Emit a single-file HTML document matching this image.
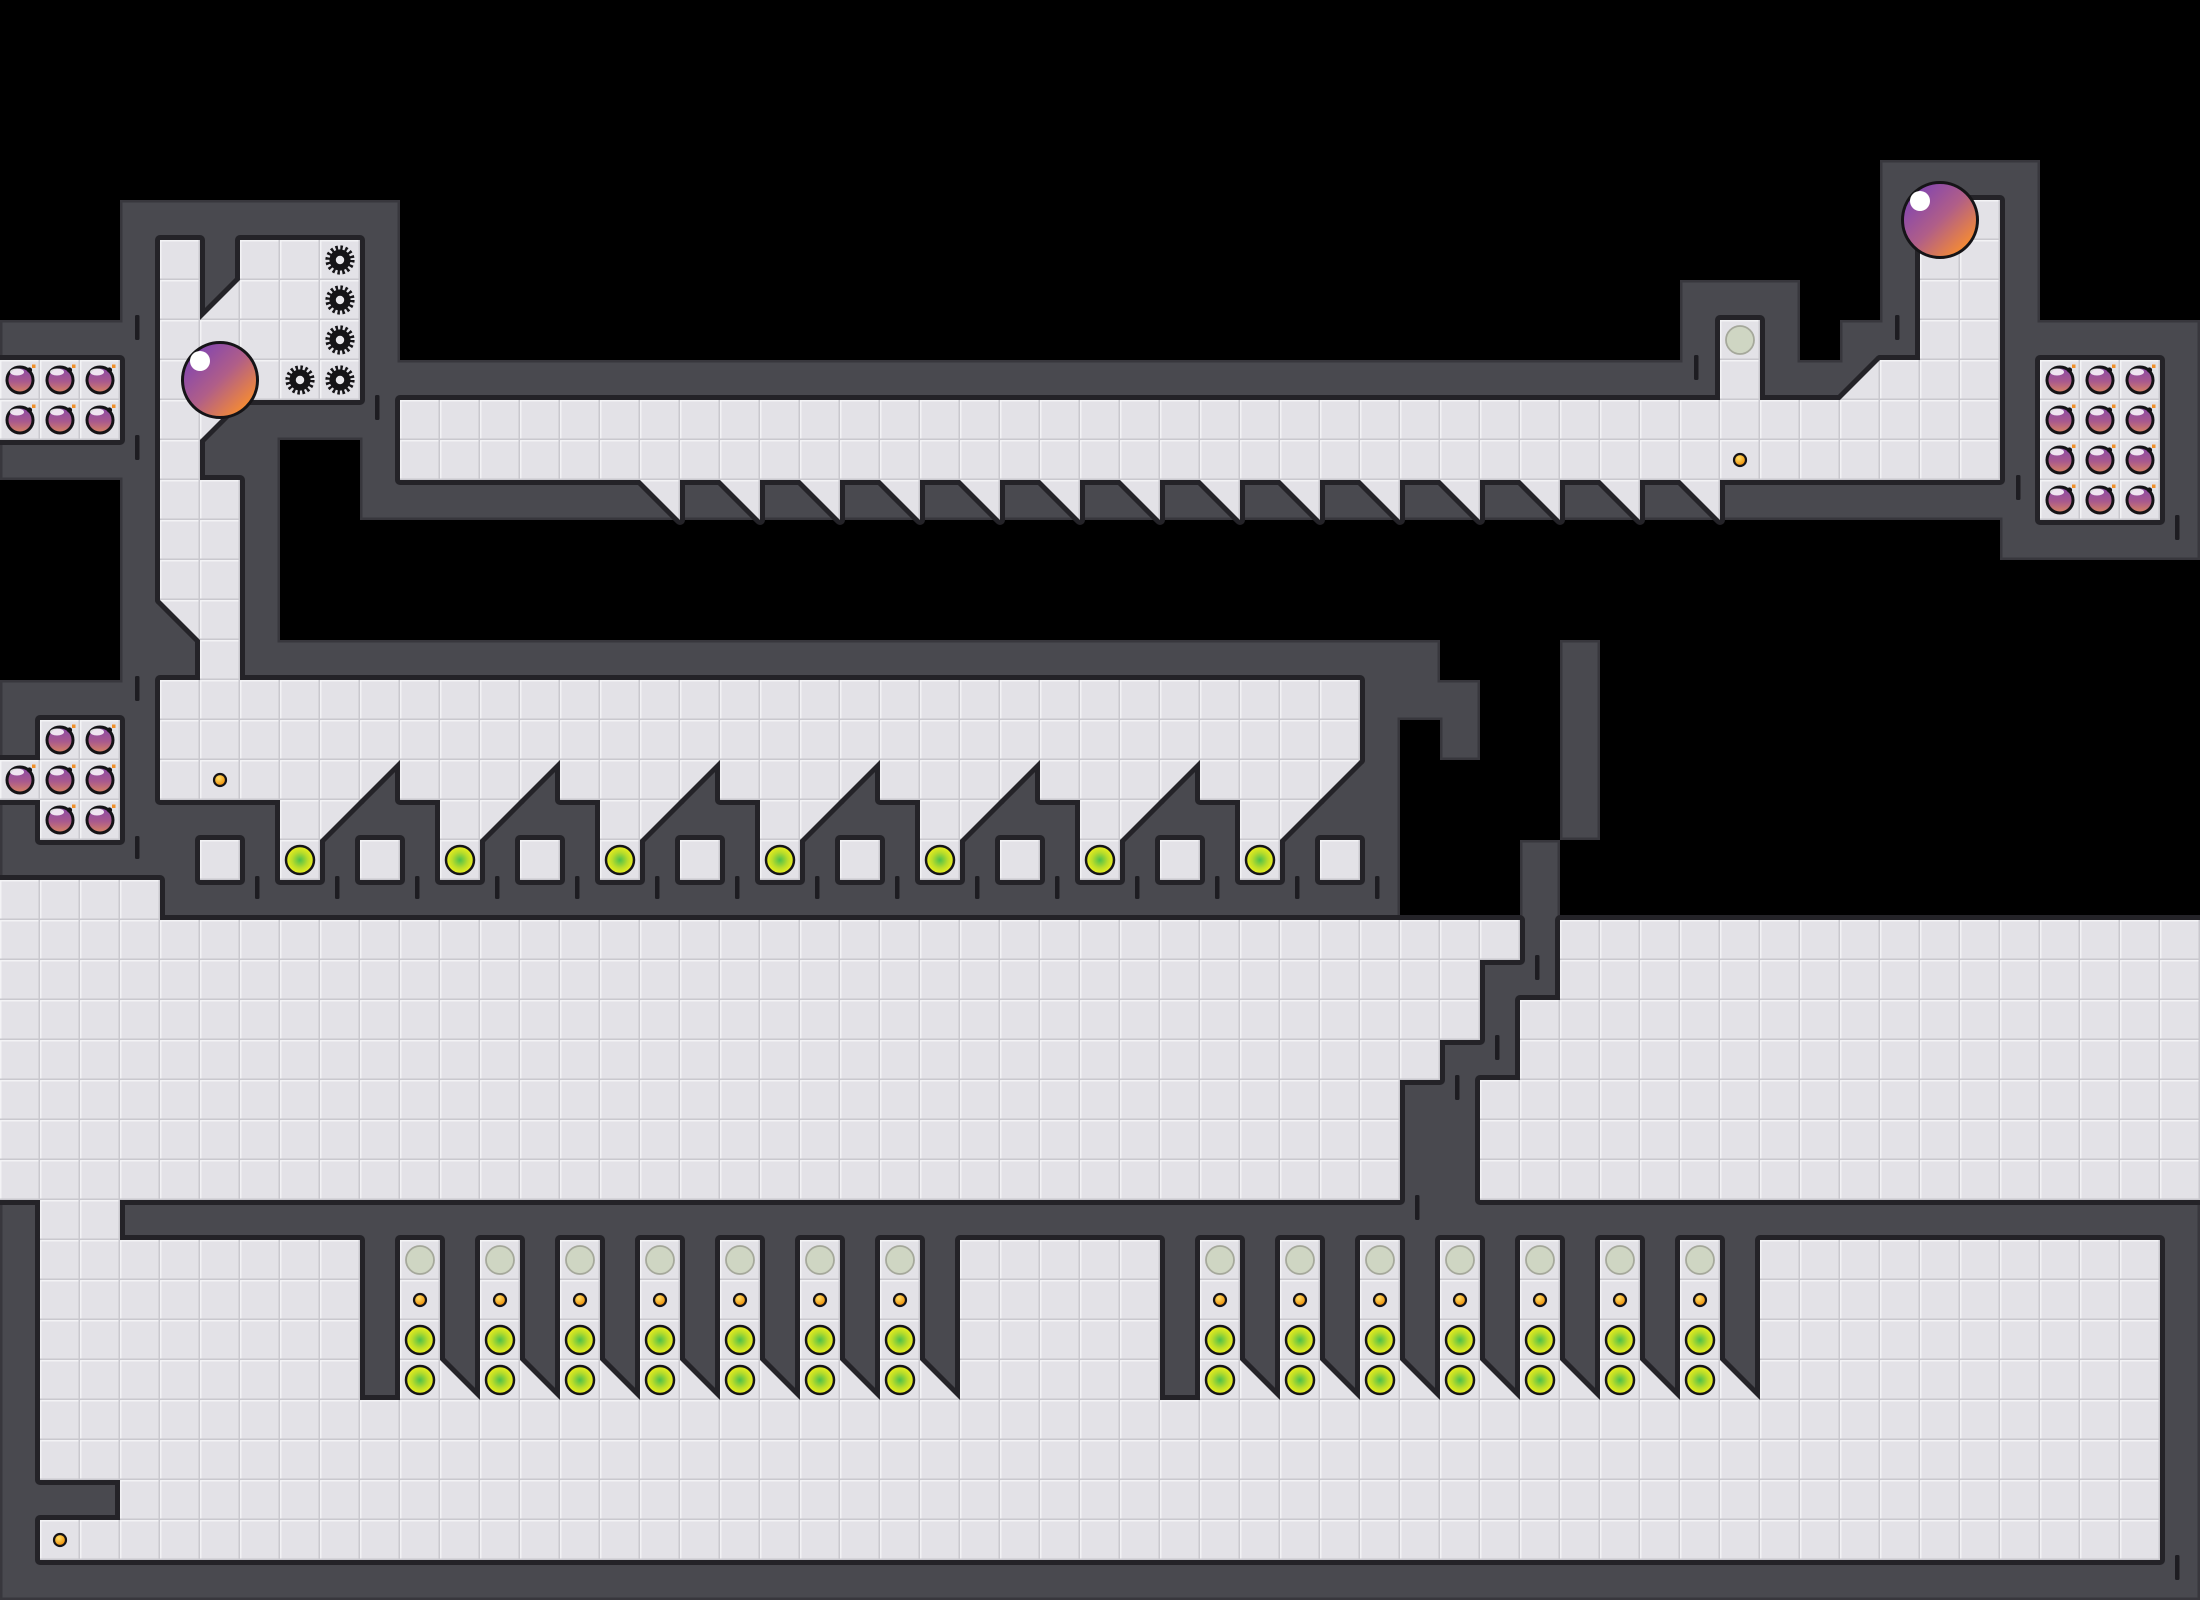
<!DOCTYPE html>
<html><head><meta charset="utf-8"><style>html,body{margin:0;padding:0;background:#000;}svg{display:block}</style></head>
<body>
<svg xmlns="http://www.w3.org/2000/svg" xmlns:xlink="http://www.w3.org/1999/xlink" width="2200" height="1600" viewBox="0 0 2200 1600">
<defs>
<filter id="er" x="0" y="0" width="2200" height="1600" filterUnits="userSpaceOnUse"><feMorphology operator="erode" radius="2.5"/></filter>
<pattern id="tile" width="40" height="40" patternUnits="userSpaceOnUse">
<rect width="40" height="40" fill="#e3e2e7"/>
<rect x="0" y="0" width="40" height="1.5" fill="#f3f3f5"/>
<rect x="0" y="0" width="1.5" height="40" fill="#f3f3f5"/>
<rect x="0" y="38.5" width="40" height="1.5" fill="#c9c8ce"/>
<rect x="38.5" y="0" width="1.5" height="40" fill="#c9c8ce"/>
</pattern>
<linearGradient id="gball" x1="0.15" y1="0.15" x2="0.85" y2="0.85"><stop offset="0" stop-color="#8446ae"/><stop offset="0.5" stop-color="#b05e88"/><stop offset="1" stop-color="#f48a34"/></linearGradient>
<linearGradient id="gb" x1="0" y1="0" x2="0" y2="1"><stop offset="0" stop-color="#8a4aa8"/><stop offset="0.55" stop-color="#a8598e"/><stop offset="1" stop-color="#da8460"/></linearGradient>
<radialGradient id="gg" cx="0.5" cy="0.5" r="0.5"><stop offset="0" stop-color="#4cc04c"/><stop offset="0.55" stop-color="#b8dc2a"/><stop offset="1" stop-color="#eef01c"/></radialGradient>
<radialGradient id="gc" cx="0.4" cy="0.35" r="0.6"><stop offset="0" stop-color="#ffe066"/><stop offset="1" stop-color="#f0920e"/></radialGradient>
<g id="ball"><circle r="37.5" fill="url(#gball)" stroke="#151417" stroke-width="3"/><circle cx="-20" cy="-19" r="10" fill="#fff"/></g>
<g id="bomb"><circle r="13" fill="url(#gb)" stroke="#141316" stroke-width="3"/><ellipse cx="-3" cy="-8" rx="7" ry="3.5" fill="#fff" opacity="0.85"/><circle cx="9.5" cy="-10" r="2.6" fill="#141316"/><rect x="12" y="-15.5" width="3.5" height="3.5" fill="#f0902a"/></g>
<g id="gear"><circle r="12.3" fill="none" stroke="#151417" stroke-width="4.6" stroke-dasharray="2.42 2.41"/><circle r="10.6" fill="#151417"/><circle r="4.2" fill="#e9e8ec"/></g>
<g id="grn"><circle r="14" fill="url(#gg)" stroke="#151417" stroke-width="2.5"/></g>
<g id="coin"><circle r="6" fill="url(#gc)" stroke="#151417" stroke-width="2.2"/></g>
<g id="pale"><circle r="14" fill="#cfd6c3" stroke="#a5a89b" stroke-width="1.8"/></g>

<g id="wl">
<rect x="1880" y="160" width="160" height="40"/>
<rect x="1880" y="200" width="40" height="160"/>
<rect x="2000" y="200" width="40" height="360"/>
<rect x="120" y="200" width="280" height="40"/>
<rect x="120" y="240" width="40" height="640"/>
<rect x="200" y="240" width="40" height="80"/>
<rect x="360" y="240" width="40" height="280"/>
<rect x="1680" y="280" width="120" height="40"/>
<rect x="0" y="320" width="120" height="40"/>
<rect x="1680" y="320" width="40" height="40"/>
<rect x="1760" y="320" width="40" height="40"/>
<rect x="1840" y="320" width="40" height="40"/>
<rect x="2040" y="320" width="160" height="40"/>
<rect x="400" y="360" width="1320" height="40"/>
<rect x="1760" y="360" width="120" height="40"/>
<rect x="2160" y="360" width="40" height="200"/>
<rect x="200" y="400" width="160" height="40"/>
<rect x="0" y="440" width="120" height="40"/>
<rect x="200" y="440" width="80" height="40"/>
<rect x="240" y="480" width="40" height="200"/>
<rect x="400" y="480" width="1600" height="40"/>
<rect x="2040" y="520" width="120" height="40"/>
<rect x="160" y="600" width="40" height="80"/>
<rect x="280" y="640" width="1160" height="40"/>
<rect x="1560" y="640" width="40" height="200"/>
<rect x="0" y="680" width="120" height="40"/>
<rect x="1360" y="680" width="120" height="40"/>
<rect x="1360" y="720" width="40" height="160"/>
<rect x="1440" y="720" width="40" height="40"/>
<rect x="0" y="720" width="40" height="40"/>
<rect x="0" y="800" width="40" height="40"/>
<rect x="360" y="760" width="40" height="40"/>
<rect x="520" y="760" width="40" height="40"/>
<rect x="680" y="760" width="40" height="40"/>
<rect x="840" y="760" width="40" height="40"/>
<rect x="1000" y="760" width="40" height="40"/>
<rect x="1160" y="760" width="40" height="40"/>
<rect x="1320" y="760" width="40" height="40"/>
<rect x="160" y="800" width="120" height="40"/>
<rect x="320" y="800" width="120" height="40"/>
<rect x="480" y="800" width="120" height="40"/>
<rect x="640" y="800" width="120" height="40"/>
<rect x="800" y="800" width="120" height="40"/>
<rect x="960" y="800" width="120" height="40"/>
<rect x="1120" y="800" width="120" height="40"/>
<rect x="1280" y="800" width="80" height="40"/>
<rect x="0" y="840" width="120" height="40"/>
<rect x="160" y="840" width="40" height="40"/>
<rect x="240" y="840" width="40" height="40"/>
<rect x="320" y="840" width="40" height="40"/>
<rect x="400" y="840" width="40" height="40"/>
<rect x="480" y="840" width="40" height="40"/>
<rect x="560" y="840" width="40" height="40"/>
<rect x="640" y="840" width="40" height="40"/>
<rect x="720" y="840" width="40" height="40"/>
<rect x="800" y="840" width="40" height="40"/>
<rect x="880" y="840" width="40" height="40"/>
<rect x="960" y="840" width="40" height="40"/>
<rect x="1040" y="840" width="40" height="40"/>
<rect x="1120" y="840" width="40" height="40"/>
<rect x="1200" y="840" width="40" height="40"/>
<rect x="1280" y="840" width="40" height="40"/>
<rect x="160" y="880" width="1240" height="40"/>
<rect x="1520" y="840" width="40" height="160"/>
<rect x="1480" y="960" width="40" height="120"/>
<rect x="1440" y="1040" width="40" height="40"/>
<rect x="1400" y="1080" width="80" height="120"/>
<rect x="120" y="1200" width="2080" height="40"/>
<rect x="0" y="1200" width="40" height="360"/>
<rect x="2160" y="1240" width="40" height="320"/>
<rect x="360" y="1240" width="40" height="160"/>
<rect x="440" y="1240" width="40" height="160"/>
<rect x="520" y="1240" width="40" height="160"/>
<rect x="600" y="1240" width="40" height="160"/>
<rect x="680" y="1240" width="40" height="160"/>
<rect x="760" y="1240" width="40" height="160"/>
<rect x="840" y="1240" width="40" height="160"/>
<rect x="920" y="1240" width="40" height="160"/>
<rect x="1160" y="1240" width="40" height="160"/>
<rect x="1240" y="1240" width="40" height="160"/>
<rect x="1320" y="1240" width="40" height="160"/>
<rect x="1400" y="1240" width="40" height="160"/>
<rect x="1480" y="1240" width="40" height="160"/>
<rect x="1560" y="1240" width="40" height="160"/>
<rect x="1640" y="1240" width="40" height="160"/>
<rect x="1720" y="1240" width="40" height="160"/>
<rect x="40" y="1480" width="80" height="40"/>
<rect x="0" y="1560" width="2200" height="40"/>
</g>

<g id="fl">
<rect x="1920" y="200" width="80" height="200"/>
<rect x="160" y="240" width="40" height="360"/>
<rect x="240" y="240" width="120" height="80"/>
<rect x="200" y="320" width="160" height="80"/>
<rect x="1720" y="320" width="40" height="80"/>
<rect x="1880" y="360" width="40" height="40"/>
<rect x="0" y="360" width="120" height="80"/>
<rect x="400" y="400" width="1600" height="80"/>
<rect x="2040" y="360" width="120" height="160"/>
<rect x="200" y="480" width="40" height="200"/>
<rect x="160" y="680" width="1200" height="80"/>
<rect x="160" y="760" width="200" height="40"/>
<rect x="400" y="760" width="120" height="40"/>
<rect x="560" y="760" width="120" height="40"/>
<rect x="720" y="760" width="120" height="40"/>
<rect x="880" y="760" width="120" height="40"/>
<rect x="1040" y="760" width="120" height="40"/>
<rect x="1200" y="760" width="120" height="40"/>
<rect x="280" y="800" width="40" height="80"/>
<rect x="440" y="800" width="40" height="80"/>
<rect x="600" y="800" width="40" height="80"/>
<rect x="760" y="800" width="40" height="80"/>
<rect x="920" y="800" width="40" height="80"/>
<rect x="1080" y="800" width="40" height="80"/>
<rect x="1240" y="800" width="40" height="80"/>
<rect x="200" y="840" width="40" height="40"/>
<rect x="360" y="840" width="40" height="40"/>
<rect x="520" y="840" width="40" height="40"/>
<rect x="680" y="840" width="40" height="40"/>
<rect x="840" y="840" width="40" height="40"/>
<rect x="1000" y="840" width="40" height="40"/>
<rect x="1160" y="840" width="40" height="40"/>
<rect x="1320" y="840" width="40" height="40"/>
<rect x="40" y="720" width="80" height="120"/>
<rect x="0" y="760" width="40" height="40"/>
<rect x="0" y="880" width="160" height="40"/>
<rect x="0" y="920" width="1520" height="40"/>
<rect x="0" y="960" width="1480" height="80"/>
<rect x="0" y="1040" width="1440" height="40"/>
<rect x="0" y="1080" width="1400" height="120"/>
<rect x="1560" y="920" width="640" height="80"/>
<rect x="1520" y="1000" width="680" height="80"/>
<rect x="1480" y="1080" width="720" height="120"/>
<rect x="40" y="1200" width="80" height="40"/>
<rect x="40" y="1240" width="320" height="160"/>
<rect x="400" y="1240" width="40" height="160"/>
<rect x="480" y="1240" width="40" height="160"/>
<rect x="560" y="1240" width="40" height="160"/>
<rect x="640" y="1240" width="40" height="160"/>
<rect x="720" y="1240" width="40" height="160"/>
<rect x="800" y="1240" width="40" height="160"/>
<rect x="880" y="1240" width="40" height="160"/>
<rect x="960" y="1240" width="200" height="160"/>
<rect x="1200" y="1240" width="40" height="160"/>
<rect x="1280" y="1240" width="40" height="160"/>
<rect x="1360" y="1240" width="40" height="160"/>
<rect x="1440" y="1240" width="40" height="160"/>
<rect x="1520" y="1240" width="40" height="160"/>
<rect x="1600" y="1240" width="40" height="160"/>
<rect x="1680" y="1240" width="40" height="160"/>
<rect x="1760" y="1240" width="400" height="160"/>
<rect x="40" y="1400" width="2120" height="80"/>
<rect x="120" y="1480" width="2040" height="40"/>
<rect x="40" y="1520" width="2120" height="40"/>
<polygon points="240,280 240,320 200,320"/>
<polygon points="1880,360 1880,400 1840,400"/>
<polygon points="200,400 240,400 200,440"/>
<polygon points="160,600 200,600 200,640"/>
<polygon points="640,480 680,480 680,520"/>
<polygon points="720,480 760,480 760,520"/>
<polygon points="800,480 840,480 840,520"/>
<polygon points="880,480 920,480 920,520"/>
<polygon points="960,480 1000,480 1000,520"/>
<polygon points="1040,480 1080,480 1080,520"/>
<polygon points="1120,480 1160,480 1160,520"/>
<polygon points="1200,480 1240,480 1240,520"/>
<polygon points="1280,480 1320,480 1320,520"/>
<polygon points="1360,480 1400,480 1400,520"/>
<polygon points="1440,480 1480,480 1480,520"/>
<polygon points="1520,480 1560,480 1560,520"/>
<polygon points="1600,480 1640,480 1640,520"/>
<polygon points="1680,480 1720,480 1720,520"/>
<polygon points="360,760 400,760 360,800"/>
<polygon points="520,760 560,760 520,800"/>
<polygon points="680,760 720,760 680,800"/>
<polygon points="840,760 880,760 840,800"/>
<polygon points="1000,760 1040,760 1000,800"/>
<polygon points="1160,760 1200,760 1160,800"/>
<polygon points="1320,760 1360,760 1320,800"/>
<polygon points="320,800 360,800 320,840"/>
<polygon points="480,800 520,800 480,840"/>
<polygon points="640,800 680,800 640,840"/>
<polygon points="800,800 840,800 800,840"/>
<polygon points="960,800 1000,800 960,840"/>
<polygon points="1120,800 1160,800 1120,840"/>
<polygon points="1280,800 1320,800 1280,840"/>
<polygon points="440,1360 440,1400 480,1400"/>
<polygon points="520,1360 520,1400 560,1400"/>
<polygon points="600,1360 600,1400 640,1400"/>
<polygon points="680,1360 680,1400 720,1400"/>
<polygon points="760,1360 760,1400 800,1400"/>
<polygon points="840,1360 840,1400 880,1400"/>
<polygon points="920,1360 920,1400 960,1400"/>
<polygon points="1240,1360 1240,1400 1280,1400"/>
<polygon points="1320,1360 1320,1400 1360,1400"/>
<polygon points="1400,1360 1400,1400 1440,1400"/>
<polygon points="1480,1360 1480,1400 1520,1400"/>
<polygon points="1560,1360 1560,1400 1600,1400"/>
<polygon points="1640,1360 1640,1400 1680,1400"/>
<polygon points="1720,1360 1720,1400 1760,1400"/>
</g>
</defs>

<rect width="2200" height="1600" fill="#000"/>
<use href="#wl" xlink:href="#wl" fill="#38373d"/>
<use href="#wl" xlink:href="#wl" fill="#4a494f" filter="url(#er)"/>
<use href="#fl" xlink:href="#fl" fill="#242328" stroke="#242328" stroke-width="10" stroke-linejoin="round"/>
<use href="#fl" xlink:href="#fl" fill="url(#tile)"/>

<g fill="#1e1d22">
<rect x="135" y="315" width="4.5" height="25" rx="1.5"/>
<rect x="135" y="435" width="4.5" height="25" rx="1.5"/>
<rect x="135" y="676" width="4.5" height="25" rx="1.5"/>
<rect x="135" y="836" width="4.5" height="23" rx="1.5"/>
<rect x="375" y="395" width="4.5" height="25" rx="1.5"/>
<rect x="1694" y="355" width="4.5" height="25" rx="1.5"/>
<rect x="1895" y="315" width="4.5" height="25" rx="1.5"/>
<rect x="2016" y="475" width="4.5" height="25" rx="1.5"/>
<rect x="2175" y="515" width="4.5" height="25" rx="1.5"/>
<rect x="255" y="876" width="4.5" height="23" rx="1.5"/>
<rect x="335" y="876" width="4.5" height="23" rx="1.5"/>
<rect x="415" y="876" width="4.5" height="23" rx="1.5"/>
<rect x="495" y="876" width="4.5" height="23" rx="1.5"/>
<rect x="575" y="876" width="4.5" height="23" rx="1.5"/>
<rect x="655" y="876" width="4.5" height="23" rx="1.5"/>
<rect x="735" y="876" width="4.5" height="23" rx="1.5"/>
<rect x="815" y="876" width="4.5" height="23" rx="1.5"/>
<rect x="895" y="876" width="4.5" height="23" rx="1.5"/>
<rect x="975" y="876" width="4.5" height="23" rx="1.5"/>
<rect x="1055" y="876" width="4.5" height="23" rx="1.5"/>
<rect x="1135" y="876" width="4.5" height="23" rx="1.5"/>
<rect x="1215" y="876" width="4.5" height="23" rx="1.5"/>
<rect x="1295" y="876" width="4.5" height="23" rx="1.5"/>
<rect x="1375" y="876" width="4.5" height="23" rx="1.5"/>
<rect x="1535" y="955" width="4.5" height="25" rx="1.5"/>
<rect x="1495" y="1035" width="4.5" height="25" rx="1.5"/>
<rect x="1455" y="1075" width="4.5" height="25" rx="1.5"/>
<rect x="1415" y="1195" width="4.5" height="25" rx="1.5"/>
<rect x="2175" y="1555" width="4.5" height="25" rx="1.5"/>
</g>

<use href="#gear" xlink:href="#gear" x="340" y="260"/>
<use href="#gear" xlink:href="#gear" x="340" y="300"/>
<use href="#gear" xlink:href="#gear" x="340" y="340"/>
<use href="#gear" xlink:href="#gear" x="340" y="380"/>
<use href="#gear" xlink:href="#gear" x="300" y="380"/>

<use href="#bomb" xlink:href="#bomb" x="20" y="380"/>
<use href="#bomb" xlink:href="#bomb" x="60" y="380"/>
<use href="#bomb" xlink:href="#bomb" x="100" y="380"/>
<use href="#bomb" xlink:href="#bomb" x="20" y="420"/>
<use href="#bomb" xlink:href="#bomb" x="60" y="420"/>
<use href="#bomb" xlink:href="#bomb" x="100" y="420"/>
<use href="#bomb" xlink:href="#bomb" x="60" y="740"/>
<use href="#bomb" xlink:href="#bomb" x="100" y="740"/>
<use href="#bomb" xlink:href="#bomb" x="20" y="780"/>
<use href="#bomb" xlink:href="#bomb" x="60" y="780"/>
<use href="#bomb" xlink:href="#bomb" x="100" y="780"/>
<use href="#bomb" xlink:href="#bomb" x="60" y="820"/>
<use href="#bomb" xlink:href="#bomb" x="100" y="820"/>
<use href="#bomb" xlink:href="#bomb" x="2060" y="380"/>
<use href="#bomb" xlink:href="#bomb" x="2100" y="380"/>
<use href="#bomb" xlink:href="#bomb" x="2140" y="380"/>
<use href="#bomb" xlink:href="#bomb" x="2060" y="420"/>
<use href="#bomb" xlink:href="#bomb" x="2100" y="420"/>
<use href="#bomb" xlink:href="#bomb" x="2140" y="420"/>
<use href="#bomb" xlink:href="#bomb" x="2060" y="460"/>
<use href="#bomb" xlink:href="#bomb" x="2100" y="460"/>
<use href="#bomb" xlink:href="#bomb" x="2140" y="460"/>
<use href="#bomb" xlink:href="#bomb" x="2060" y="500"/>
<use href="#bomb" xlink:href="#bomb" x="2100" y="500"/>
<use href="#bomb" xlink:href="#bomb" x="2140" y="500"/>

<use href="#coin" xlink:href="#coin" x="220" y="780"/>
<use href="#coin" xlink:href="#coin" x="1740" y="460"/>
<use href="#coin" xlink:href="#coin" x="60" y="1540"/>

<use href="#pale" xlink:href="#pale" x="1740" y="340"/>

<use href="#grn" xlink:href="#grn" x="300" y="860"/>
<use href="#grn" xlink:href="#grn" x="460" y="860"/>
<use href="#grn" xlink:href="#grn" x="620" y="860"/>
<use href="#grn" xlink:href="#grn" x="780" y="860"/>
<use href="#grn" xlink:href="#grn" x="940" y="860"/>
<use href="#grn" xlink:href="#grn" x="1100" y="860"/>
<use href="#grn" xlink:href="#grn" x="1260" y="860"/>

<g id="ch1">
<use href="#pale" xlink:href="#pale" x="420" y="1260"/><use href="#coin" xlink:href="#coin" x="420" y="1300"/><use href="#grn" xlink:href="#grn" x="420" y="1340"/><use href="#grn" xlink:href="#grn" x="420" y="1380"/>
<use href="#pale" xlink:href="#pale" x="500" y="1260"/><use href="#coin" xlink:href="#coin" x="500" y="1300"/><use href="#grn" xlink:href="#grn" x="500" y="1340"/><use href="#grn" xlink:href="#grn" x="500" y="1380"/>
<use href="#pale" xlink:href="#pale" x="580" y="1260"/><use href="#coin" xlink:href="#coin" x="580" y="1300"/><use href="#grn" xlink:href="#grn" x="580" y="1340"/><use href="#grn" xlink:href="#grn" x="580" y="1380"/>
<use href="#pale" xlink:href="#pale" x="660" y="1260"/><use href="#coin" xlink:href="#coin" x="660" y="1300"/><use href="#grn" xlink:href="#grn" x="660" y="1340"/><use href="#grn" xlink:href="#grn" x="660" y="1380"/>
<use href="#pale" xlink:href="#pale" x="740" y="1260"/><use href="#coin" xlink:href="#coin" x="740" y="1300"/><use href="#grn" xlink:href="#grn" x="740" y="1340"/><use href="#grn" xlink:href="#grn" x="740" y="1380"/>
<use href="#pale" xlink:href="#pale" x="820" y="1260"/><use href="#coin" xlink:href="#coin" x="820" y="1300"/><use href="#grn" xlink:href="#grn" x="820" y="1340"/><use href="#grn" xlink:href="#grn" x="820" y="1380"/>
<use href="#pale" xlink:href="#pale" x="900" y="1260"/><use href="#coin" xlink:href="#coin" x="900" y="1300"/><use href="#grn" xlink:href="#grn" x="900" y="1340"/><use href="#grn" xlink:href="#grn" x="900" y="1380"/>
</g>
<use href="#ch1" xlink:href="#ch1" x="800" y="0"/>

<use href="#ball" xlink:href="#ball" x="220" y="380"/>
<use href="#ball" xlink:href="#ball" x="1940" y="220"/>
</svg>
</body></html>
